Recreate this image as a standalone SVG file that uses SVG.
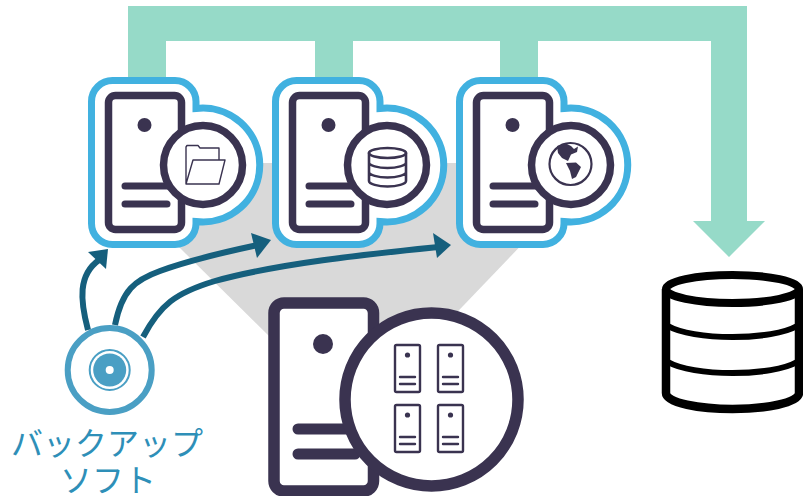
<svg xmlns="http://www.w3.org/2000/svg" width="803" height="496" viewBox="0 0 803 496">
<style>
.ink{fill:none;stroke:#3a3350;stroke-linecap:round;stroke-linejoin:round}
.inkf{fill:#3a3350}
.blue{fill:#fff;stroke:#41b1e0;stroke-width:7}
.conn{fill:none;stroke:#155f7d;stroke-width:6}
.head{fill:#155f7d}
.db{fill:none;stroke:#000}
.lbl{font-family:"Noto Sans CJK JP","Noto Sans",sans-serif;font-size:32px;font-weight:400;fill:#2e8fb8;text-anchor:middle}
</style>
<defs>
<g id="srv">
<path class="blue" d="M113 80.5H175A21 21 0 0 1 196 101.5V108.400A57 57 0 1 1 196 221.600V223.500A21 21 0 0 1 175 244.500H113A21 21 0 0 1 91.500 223.500V101.500A21 21 0 0 1 113 80.500Z"/>
<rect x="108.500" y="95.500" width="73" height="134" rx="7" fill="#fff" stroke="#3a3350" stroke-width="7.500"/>
<circle class="inkf" cx="144.500" cy="125" r="7"/>
<path class="ink" stroke-width="7" d="M125 186H175M125 204H167"/>
<circle cx="203" cy="165" r="39.500" fill="#fff" stroke="#3a3350" stroke-width="7.500"/>
</g>
<g id="mini">
<rect x="395" y="345" width="25" height="47" rx="1.500" fill="#fff" stroke="#3a3350" stroke-width="2.400"/>
<circle class="inkf" cx="407.500" cy="355" r="2.600"/>
<path class="ink" stroke-width="2.400" d="M400 377H415M400 384H415"/>
</g>
</defs>
<polygon fill="#d9d9d9" points="94,163 600,163 440,330 270,337"/>
<g id="backup-flow">
<path fill="#96dac8" d="M128 6H747V221H765L729 257L693 221H711V41H538V78H500V41H353V78H315V41H166V78H128Z"/>
</g>
<g id="node-file"><use href="#srv"/>
<path class="ink" stroke-width="1.400" d="M219 160V148H200L198 145.500H187L186 147V184H219L225 160H193L186 184"/>
</g>
<g id="node-db"><use href="#srv" x="184"/>
<g class="ink" stroke-width="2.600">
<ellipse cx="387.500" cy="153" rx="18.500" ry="5"/>
<path d="M369 153V181C369 184 378 186.500 387.500 186.500C397 186.500 406 184 406 181V153M369 162.500C369 165.500 378 168 387.500 168C397 168 406 165.500 406 162.500M369 172C369 175 378 177.500 387.500 177.500C397 177.500 406 175 406 172"/>
</g>
</g>
<g id="node-web"><use href="#srv" x="368"/>
<circle cx="570.500" cy="164" r="21" fill="none" stroke="#3a3350" stroke-width="2.200"/>
<path class="inkf" d="M557 146L566 143.500L571 146L574 149L578 146.500L577 152L571 154.500L568 161L562 158L558 153Z"/>
<path class="inkf" d="M566 163L576 162.500L581 167L576 177L572 179L570 171Z"/>
</g>
<g id="node-multi">
<rect x="274" y="303" width="99.500" height="188" rx="10" fill="#fff" stroke="#3a3350" stroke-width="11.500"/>
<circle class="inkf" cx="323" cy="344" r="10"/>
<path class="ink" stroke-width="11" d="M298 429H355M298 454H355"/>
<circle cx="431.500" cy="399.500" r="86.500" fill="#fff" stroke="#3a3350" stroke-width="11.500"/>
<use href="#mini"/><use href="#mini" x="43"/><use href="#mini" y="60"/><use href="#mini" x="43" y="60"/>
</g>
<g id="node-software">
<circle cx="109.700" cy="370" r="42" fill="#fff" stroke="#4a9fc4" stroke-width="6"/>
<circle cx="109.700" cy="370" r="20" fill="none" stroke="#4a9fc4" stroke-width="2"/>
<circle cx="109.700" cy="370" r="16.500" fill="#4a9fc4"/>
<circle cx="109.700" cy="370" r="4" fill="#fff"/>
<text class="lbl"><tspan x="107" y="455">バックアップ</tspan><tspan x="108" y="492">ソフト</tspan></text>
</g>
<g id="node-storage">
<ellipse class="db" stroke-width="8" cx="732.500" cy="289" rx="66.500" ry="14"/>
<path class="db" stroke-width="8.500" d="M666 289V393C666 403 700 409 732.500 409C765 409 799 403 799 393V289"/>
<path class="db" stroke-width="6" d="M668 326C680 333 705 337 732.500 337C760 337 785 333 797 326M668 362C680 369 705 373 732.500 373C760 373 785 369 797 362"/>
</g>
<g id="connectors">
<path class="conn" d="M88 330C80 300 78 275 99 260"/>
<polygon class="head" points="108,249 88,252 106,269"/>
<path class="conn" d="M115 325C122 290 135 280 160 271C190 260 225 252 258 245"/>
<polygon class="head" points="271,240 251,233 257,258"/>
<path class="conn" d="M143 337C160 305 175 293 215 281C280 263 370 254 438 247"/>
<polygon class="head" points="451,245 433,233 437,258"/>
</g>
</svg>
